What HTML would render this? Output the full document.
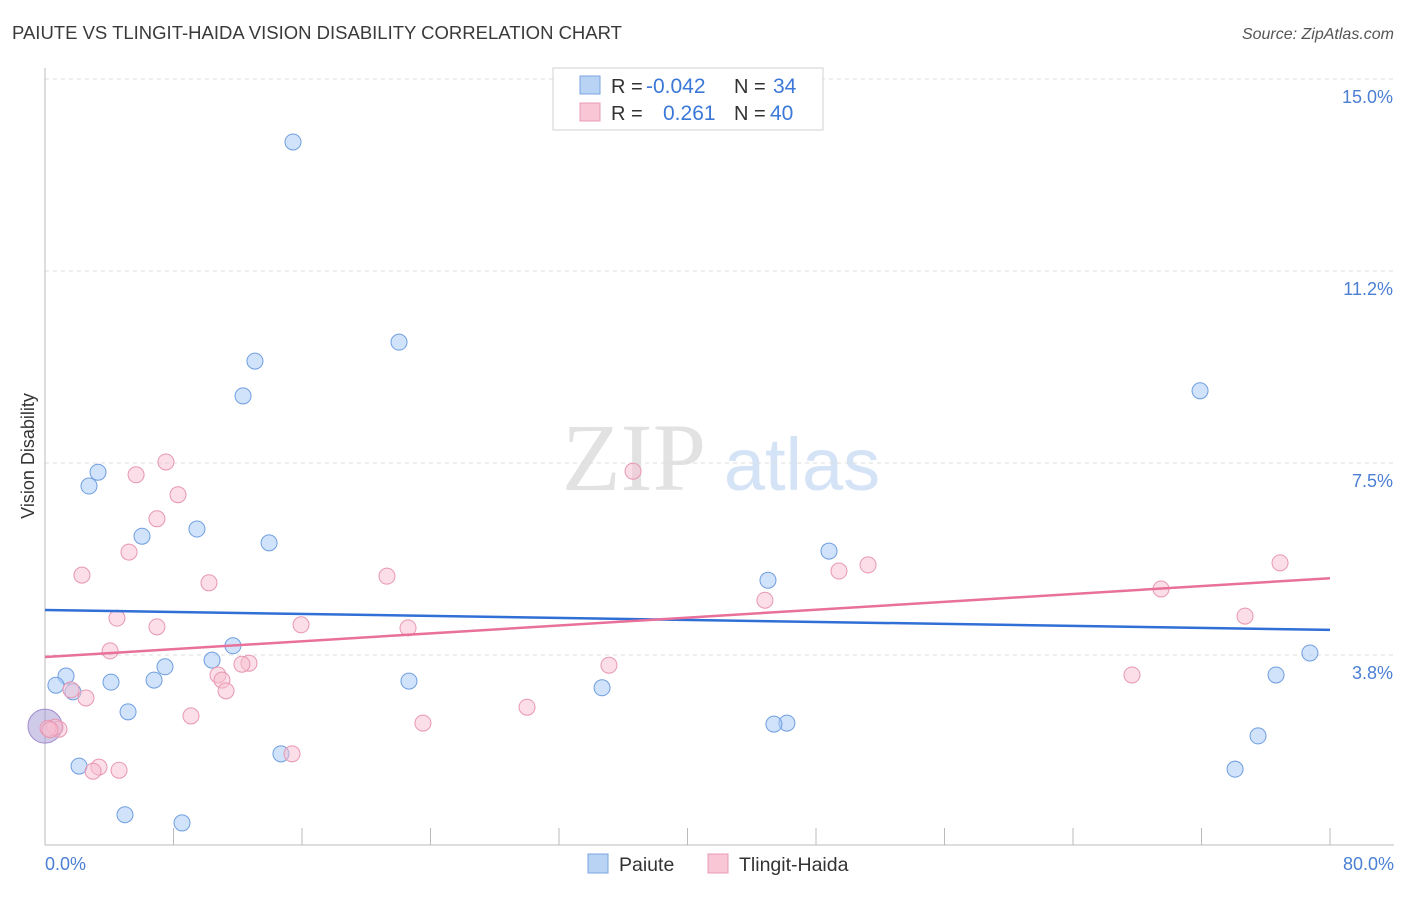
<!DOCTYPE html>
<html><head><meta charset="utf-8"><style>
body{margin:0;background:#fff;font-family:"Liberation Sans",sans-serif}
</style></head><body>
<svg id="chart" width="1406" height="892" viewBox="0 0 1406 892" xmlns="http://www.w3.org/2000/svg" font-family="Liberation Sans, sans-serif">
<text x="12" y="39" font-size="18.5" fill="#3a3a3a">PAIUTE VS TLINGIT-HAIDA VISION DISABILITY CORRELATION CHART</text>
<text x="1394" y="39" font-size="16" font-style="italic" fill="#555" text-anchor="end">Source: ZipAtlas.com</text>
<g>
<text x="634" y="490" font-size="96" style="font-family:'Liberation Serif',serif" fill="#e2e2e2" text-anchor="middle">ZIP</text>
<text x="802" y="490" font-size="74" fill="#d5e3f6" text-anchor="middle">atlas</text>
</g>
<g id="grid"></g>
<g id="axes"></g>
<g id="marks"></g>
<text transform="translate(34,456) rotate(-90)" font-size="18" fill="#333" text-anchor="middle">Vision Disability</text>
<g>
<rect x="553" y="68" width="270" height="62" fill="#fff" stroke="#d0d0d0"/>
<rect x="580" y="76" width="20" height="18" fill="#b9d3f5" stroke="#7aa6e0"/>
<text x="611" y="93" font-size="20" fill="#333">R = </text><text x="646" y="93" font-size="21" fill="#3b78d8">-0.042</text>
<text x="734" y="93" font-size="20" fill="#333">N = </text><text x="773" y="93" font-size="21" fill="#3b78d8">34</text>
<rect x="580" y="103" width="20" height="18" fill="#f9c6d6" stroke="#e99ab4"/>
<text x="611" y="120" font-size="20" fill="#333">R = </text><text x="663" y="120" font-size="21" fill="#3b78d8">0.261</text>
<text x="734" y="120" font-size="20" fill="#333">N = </text><text x="770" y="120" font-size="21" fill="#3b78d8">40</text>
</g>
<g>
<rect x="588" y="854" width="20" height="19" fill="#b9d3f5" stroke="#7aa6e0"/>
<text x="619" y="871" font-size="19.5" fill="#333">Paiute</text>
<rect x="708" y="854" width="20" height="19" fill="#f9c6d6" stroke="#e99ab4"/>
<text x="739" y="871" font-size="19.5" fill="#333">Tlingit-Haida</text>
</g>
</svg>
<script>
const yTicks=[15,11.25,7.5,3.75];
const yTickLabels=["15.0%","11.2%","7.5%","3.8%"];
const xTicks=[0,8,16,24,32,40,48,56,64,72,80];
const paiuteX=[15.44,22.04,13.07,12.33,71.91,3.30,2.74,9.46,6.04,13.95,48.81,45.01,11.70,10.40,7.47,1.31,0.68,4.11,6.79,1.74,22.66,34.68,5.17,78.75,76.64,46.19,45.38,14.69,75.52,2.12,74.09,4.98,8.53,0.0];
const paiuteY=[13.77,9.86,9.49,8.81,8.91,7.32,7.05,6.21,6.07,5.94,5.78,5.21,3.93,3.65,3.52,3.34,3.16,3.22,3.26,3.03,3.24,3.11,2.64,3.79,3.36,2.42,2.40,1.82,2.17,1.58,1.52,0.63,0.47,2.36];
const tlingitX=[7.53,5.67,8.28,36.61,6.97,5.23,2.30,10.21,21.29,49.43,51.24,76.89,69.48,44.82,74.71,4.48,6.97,15.94,22.60,4.05,12.70,12.26,35.11,10.77,11.02,11.27,2.55,1.62,67.67,9.09,30.01,23.53,0.87,0.62,15.38,3.36,4.61,2.99,0.19,0.31];
const tlingitY=[7.52,7.27,6.88,7.34,6.41,5.76,5.31,5.16,5.29,5.39,5.51,5.55,5.04,4.82,4.51,4.47,4.30,4.34,4.28,3.83,3.59,3.57,3.55,3.36,3.26,3.05,2.91,3.07,3.36,2.56,2.73,2.42,2.30,2.34,1.82,1.56,1.50,1.48,2.32,2.29];
const paiuteTrend=[4.63,4.24];
const tlingitTrend=[3.71,5.25];
const NS="http://www.w3.org/2000/svg";
const X=v=>45+v*(1285/80), Y=v=>847-v*51.2;
function mk(tag,attrs,parent){const e=document.createElementNS(NS,tag);for(const k in attrs)e.setAttribute(k,attrs[k]);document.getElementById(parent).appendChild(e);return e;}
yTicks.forEach((t,i)=>{
 const g=mk('line',{x1:45,x2:1394,y1:Y(t),y2:Y(t),stroke:'#dcdcdc','stroke-dasharray':'4,4'},'grid');
 
 
 const l=mk('text',{x:1393,y:Y(t)+24,'font-size':18,fill:'#4a7fd4','text-anchor':'end'},'axes');
 l.textContent=yTickLabels[i];
 
 
});
const ax=mk('line',{x1:45,x2:1394,y1:845,y2:845,stroke:'#bbb'},'axes');


const ay=mk('line',{x1:45,x2:45,y1:68,y2:845,stroke:'#bbb'},'axes');


xTicks.forEach(t=>{const e=mk('line',{x1:X(t),x2:X(t),y1:828,y2:845,stroke:'#bbb'},'axes');
 
 });
const xl0=mk('text',{x:45,y:870,'font-size':18,fill:'#4a7fd4'},'axes');xl0.textContent='0.0%';


const xl1=mk('text',{x:1394,y:870,'font-size':18,fill:'#4a7fd4','text-anchor':'end'},'axes');xl1.textContent='80.0%';


paiuteX.forEach((v,i)=>{const big=i===paiuteX.length-1;
 const c=mk('circle',{cx:X(v),cy:Y(paiuteY[i]),r:big?17:8,fill:big?'rgba(160,150,210,0.5)':'rgba(170,204,245,0.55)',stroke:big?'#a08ad0':'#6f9ee0','stroke-width':1},'marks');
 
 });
tlingitX.forEach((v,i)=>{
 const c=mk('circle',{cx:X(v),cy:Y(tlingitY[i]),r:8,fill:'rgba(248,190,208,0.5)',stroke:'#e897b2','stroke-width':1},'marks');
 
 });
const t1=mk('line',{x1:X(0),x2:X(80),y1:Y(paiuteTrend[0]),y2:Y(paiuteTrend[1]),stroke:'#2f6fd6','stroke-width':2.5},'marks');


const t2=mk('line',{x1:X(0),x2:X(80),y1:Y(tlingitTrend[0]),y2:Y(tlingitTrend[1]),stroke:'#e8709a','stroke-width':2.5},'marks');


</script>
</body></html>
